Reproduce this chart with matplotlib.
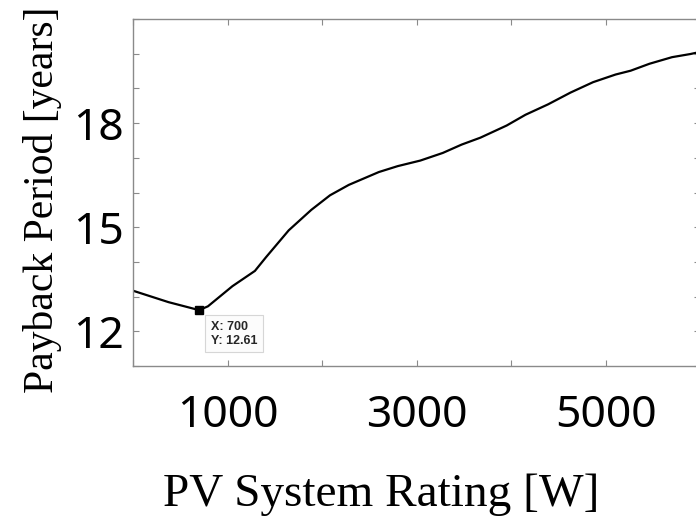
import matplotlib
matplotlib.use('Agg')
import matplotlib.pyplot as plt
from matplotlib.ticker import MultipleLocator, FixedLocator

# payback period vs PV rating
rating_w = [0, 376, 700, 793, 1052, 1290, 1409, 1648, 1887, 2085, 2284, 2602, 2801,
            3040, 3278, 3477, 3676, 3954, 4153, 4392, 4630, 4869, 5107, 5266, 5465,
            5704, 5897, 6000]
payback_yr = [13.17, 12.84, 12.61, 12.72, 13.30, 13.74, 14.14, 14.91, 15.50, 15.92,
              16.22, 16.59, 16.76, 16.92, 17.14, 17.38, 17.58, 17.93, 18.24, 18.54,
              18.88, 19.18, 19.40, 19.51, 19.71, 19.90, 19.99, 20.05]
tip_x, tip_y = 700, 12.61
xtick_labels = [1000, 3000, 5000]
ytick_labels = [12, 15, 18]

W, H = 696, 518
fig = plt.figure(figsize=(W / 100, H / 100), dpi=100)
ax_l, ax_r, ax_t, ax_b = 133, 700, 19, 366   # axes box in pixels (right edge runs off the figure)
ax = fig.add_axes([ax_l / W, (H - ax_b) / H, (ax_r - ax_l) / W, (ax_b - ax_t) / H])

ax.plot(rating_w, payback_yr, color='black', lw=1.6)
ax.plot([tip_x], [tip_y], marker='s', color='black', ms=6, ls='none')
ax.annotate(f'X: {tip_x}\nY: {tip_y}', xy=(tip_x, tip_y), xytext=(8.5, -7.5),
            textcoords='offset points', ha='left', va='top', fontsize=9,
            fontweight='bold', color='#262626', family='Liberation Sans', linespacing=1.25,
            bbox=dict(boxstyle='square,pad=0.45', fc='#fcfcfc', ec='#d6d6d6', lw=0.8))

ax.set_xlim(0, 6000)
ax.set_ylim(11, 21)
ax.xaxis.set_major_locator(FixedLocator(xtick_labels))
ax.xaxis.set_minor_locator(MultipleLocator(1000))
ax.yaxis.set_major_locator(FixedLocator(ytick_labels))
ax.yaxis.set_minor_locator(MultipleLocator(1))

for s in ax.spines.values():
    s.set_color('#8a8a8a')
    s.set_linewidth(1.0)
ax.tick_params(which='both', direction='in', top=True, right=True, color='#8a8a8a',
               length=4, width=0.8)
ax.tick_params(axis='x', pad=20)
ax.tick_params(axis='y', pad=6.5)
for lab in ax.get_xticklabels() + ax.get_yticklabels():
    lab.set_family('Noto Sans')
    lab.set_fontsize(32)

ax.set_xlabel('PV System Rating [W]', family='Liberation Serif', fontsize=34)
ax.set_ylabel('Payback Period [years]', family='Liberation Serif', fontsize=30)
# label positions measured in pixels, converted to axes fractions
ax.xaxis.set_label_coords((381 - ax_l) / (ax_r - ax_l), (ax_b - 474) / (ax_b - ax_t))
ax.yaxis.set_label_coords((62 - ax_l) / (ax_r - ax_l), (ax_b - 200) / (ax_b - ax_t))

plt.savefig('out.png', dpi=100)
